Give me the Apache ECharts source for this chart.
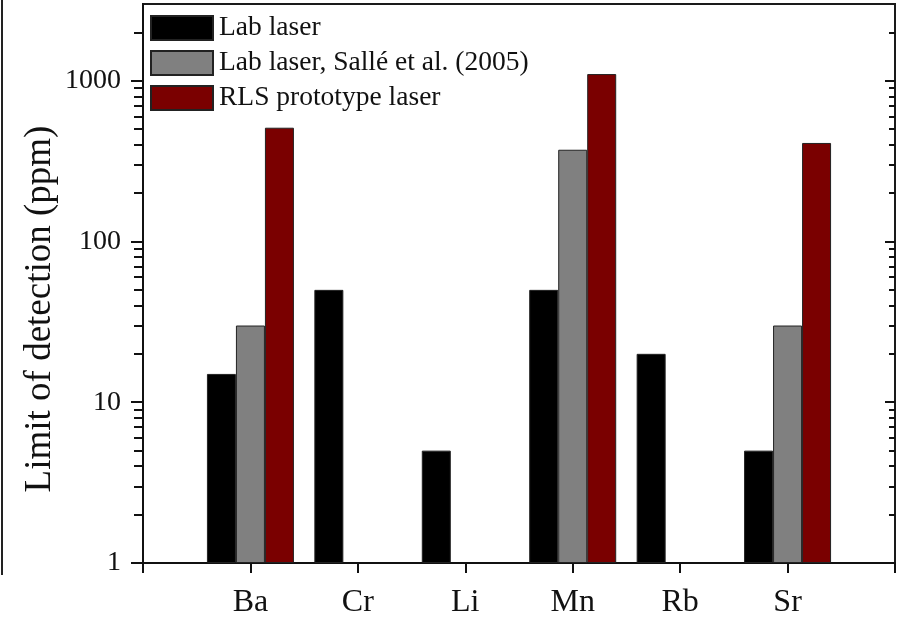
<!DOCTYPE html>
<html>
<head>
<meta charset="utf-8">
<script src="https://cdn.jsdelivr.net/npm/echarts@6/dist/echarts.min.js"></script>
<style>
html,body{margin:0;padding:0;background:#fff;}
#c{width:901px;height:620px;}
</style>
</head>
<body>
<div id="c"></div>
<script>
const categories = ['Ba', 'Cr', 'Li', 'Mn', 'Rb', 'Sr'];
const seriesNames = ['Lab laser', 'Lab laser, Sallé et al. (2005)', 'RLS prototype laser'];
const labLaser = [15, 50, 5, 50, 20, 5];
const labLaserSalle = [30, null, null, 372, null, 30];
const rlsLaser = [510, null, null, 1100, null, 410];
const yMajorTicks = [1, 10, 100, 1000];
const yMinorTicks = [2,3,4,5,6,7,8,9,20,30,40,50,60,70,80,90,200,300,400,500,600,700,800,900,2000];
const yMin = 1, yMax = 3000;

const FONT = '"Liberation Serif", "Times New Roman", serif';
const pad = arr => [null].concat(arr, [null]);
const xCats = [''].concat(categories, ['']);

const chart = echarts.init(document.getElementById('c'), null, {renderer: 'canvas'});

function yAx(opts) {
  return Object.assign({
    type: 'log', logBase: 10, min: yMin, max: yMax,
    splitLine: {show: false},
    axisLine: {show: false},
    axisLabel: {show: false},
    axisTick: {show: false}
  }, opts);
}

const colors = ['#000000', '#808080', '#7a0000'];
const dataSets = [labLaser, labLaserSalle, rlsLaser];

chart.setOption({
  animation: false,
  backgroundColor: '#fff',
  grid: {left: 143, right: 6, top: 4, bottom: 57, show: true, borderColor: '#1a1a1a', borderWidth: 2, backgroundColor: 'transparent'},
  legend: {
    orient: 'vertical', left: 150, top: 14, padding: 0,
    itemWidth: 62, itemHeight: 24, itemGap: 7,
    icon: 'rect', selectedMode: false,
    textStyle: {fontFamily: FONT, fontSize: 27.5, color: '#111', padding: [0, 0, 0, 1]},
    data: seriesNames
  },
  xAxis: [{
    type: 'category', data: xCats, boundaryGap: false,
    axisLine: {show: true, lineStyle: {color: '#111', width: 2}},
    axisTick: {show: true, length: 10, inside: false, lineStyle: {color: '#111', width: 2}, interval: 0},
    axisLabel: {fontFamily: FONT, fontSize: 32, color: '#111', margin: 24, interval: 0},
    splitLine: {show: false}
  }],
  yAxis: [
    yAx({
      position: 'left',
      axisLine: {show: true, lineStyle: {color: '#111', width: 2}},
      axisTick: {show: true, length: 12, inside: false, customValues: yMajorTicks, lineStyle: {color: '#111', width: 2}},
      axisLabel: {show: true, customValues: yMajorTicks, fontFamily: FONT, fontSize: 28, color: '#111', margin: 22,
        formatter: v => String(Math.round(v))}
    }),
    yAx({
      position: 'left',
      axisTick: {show: true, length: 9, inside: false, customValues: yMinorTicks, lineStyle: {color: '#111', width: 2}}
    }),
    yAx({
      position: 'right',
      axisTick: {show: true, length: 10, inside: true, customValues: yMajorTicks, lineStyle: {color: '#111', width: 2}}
    }),
    yAx({
      position: 'right',
      axisTick: {show: true, length: 6, inside: true, customValues: yMinorTicks, lineStyle: {color: '#111', width: 2}}
    })
  ],
  series: seriesNames.map((name, i) => ({
    name: name, type: 'bar', xAxisIndex: 0, yAxisIndex: 0,
    data: pad(dataSets[i]),
    barWidth: 29, barGap: '0%',
    itemStyle: {color: colors[i], borderColor: '#222', borderWidth: 1}
  })),
  graphic: [
    {
      type: 'text', x: 40, y: 309, rotation: Math.PI / 2,
      style: {text: 'Limit of detection (ppm)', font: '37px ' + FONT, fill: '#111', align: 'center', verticalAlign: 'middle'}
    },
    {
      type: 'line', shape: {x1: 2, y1: 0, x2: 2, y2: 575},
      style: {stroke: '#222', lineWidth: 2}
    }
  ]
});
</script>
</body>
</html>
